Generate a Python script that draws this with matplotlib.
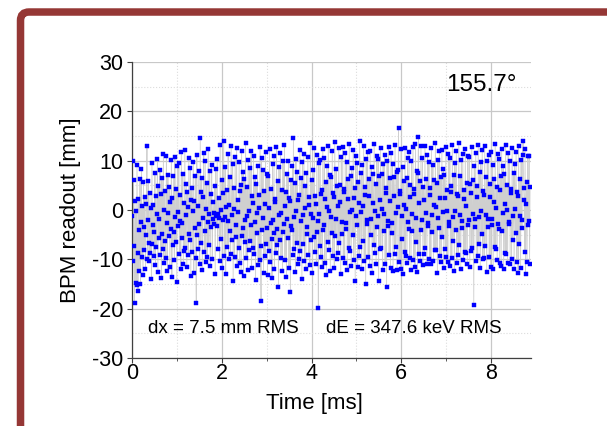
import matplotlib
matplotlib.use("Agg")
import matplotlib.pyplot as plt
import numpy as np
from matplotlib.patches import FancyBboxPatch
from matplotlib.ticker import MultipleLocator

plt.rcParams["font.family"] = ["Liberation Sans", "DejaVu Sans"]
plt.rcParams["axes.unicode_minus"] = False

# BPM turn-by-turn readout [mm], one sample per turn
bpm_readout = [
    -1.2, 9.9, -10.4, 6.1, -7.3, -18.8, 1.9, -14.8, -0.3, -15.2, 9.1, -8.7, -16.4, 2.2, -12.3, -4.1, 6.2, -14.9, -2.5, 8.4,
    -9.6, 0.8, -13.1, 5.7, -8.2, -3.4, 2.7, -11.9, -5.1, 1.2, 13.0, -9.9, -2.0, 5.9, -10.3, -6.6, 3.5, -8.8, 0.4, -14.0,
    9.6, -6.9, -3.0, 1.0, -9.3, -4.4, 7.6, -11.2, 2.9, -7.5, -0.9, 10.4, -12.6, 4.8, -5.7, -1.8, 8.1, -9.1, 3.3, -13.8,
    6.5, -4.8, -8.0, 11.4, -10.7, 0.1, 3.9, -6.2, -9.7, 10.9, -2.7, -12.4, 7.1, -0.7, -5.3, 4.6, -11.6, 1.6, -3.9, 10.2,
    -13.6, 2.4, -7.0, 6.8, -4.5, -10.1, 10.8, -1.4, -6.4, 4.2, -14.5, 8.9, -3.3, -0.5, 9.5, -9.0, -2.2, 3.0, -12.0, 11.8,
    -5.6, -2.6, 7.3, -10.9, 1.4, -8.4, 12.2, -7.7, -1.1, 5.2, -11.5, 3.7, 0.6, -9.2, 10.6, -4.9, -6.0, 8.6, -13.3, 2.0,
    4.4, -8.6, -0.2, 9.8, -12.8, 1.8, -3.6, 6.9, -9.8, -18.9, 11.1, -5.0, 0.9, -7.9, 8.0, -2.9, -11.0, 14.7, -6.7, 3.6,
    6.4, -12.2, 2.6, -1.6, 11.6, -8.5, -4.2, 10.0, -10.6, 0.3, 5.5, -9.5, -2.4, 12.4, -7.1, -0.8, 7.9, -11.3, 3.2, -3.5,
    9.2, -9.9, -1.9, 1.7, -2.8, -0.6, 4.9, -13.0, 8.3, -1.3, -3.2, 10.3, -8.0, -0.9, 2.5, -1.7, -10.4, 13.2, -5.8, 0.0,
    6.0, -11.7, 3.4, -2.1, 14.0, -9.3, -1.5, 8.8, -12.9, 0.7, 4.0, -7.4, -2.3, 11.3, -10.0, 1.1, 6.6, -4.3, -8.9, 12.9,
    -6.1, -1.0, 9.4, -14.4, 4.5, 0.2, -9.6, 10.7, -3.0, -5.4, 12.6, -11.4, 2.1, -0.4, -7.6, 9.7, -10.8, 3.9, 5.0, -12.5,
    11.9, -5.2, -3.7, 7.7, -13.4, 6.3, -2.0, -6.5, 13.5, -9.7, -1.2, 4.7, -12.1, 10.1, -0.1, -8.1, 8.5, -6.3, -3.1, 12.0,
    -11.8, 2.8, 1.5, -7.8, 11.0, -9.0, -2.5, 6.7, -14.2, 5.3, -0.7, -4.6, 9.0, -11.1, 0.5, 3.1, -10.2, 12.7, -7.2, -18.5,
    10.5, -4.0, -1.6, 8.2, -12.7, 3.8, 1.3, -9.4, 11.7, -6.8, -3.6, 7.4, -13.2, 6.9, 0.4, -8.3, 12.3, -10.5, -2.6, 4.3,
    -5.9, -13.7, 9.3, -2.1, -4.7, 10.9, -11.9, 1.6, 2.3, -8.7, 12.8, -7.0, -3.8, 5.8, -15.7, 8.7, -1.0, -6.1, 11.5, -9.8,
    -0.6, 4.1, -12.3, 9.9, -4.4, -2.8, 13.1, -10.1, 0.8, 3.6, -13.5, 7.2, -1.8, -5.6, 10.0, -11.7, 2.4, 1.9, -16.7, 6.0,
    -3.3, -4.1, 8.9, -9.2, 14.6, -7.9, -1.4, 5.4, -12.6, 10.4, -0.3, -6.7, 7.8, -11.0, 2.0, 3.0, -9.9, 12.1, -8.4, -2.2,
    6.4, -13.9, 9.7, -1.1, -6.9, 11.4, -10.3, 0.5, 4.8, -12.0, 7.6, -3.4, -4.8, 10.8, -9.1, 1.0, 2.7, -11.2, 13.6, -6.0,
    -0.9, 6.1, -12.8, 8.1, -1.7, -5.5, 12.5, -8.6, 2.9, 1.2, -10.9, 11.2, -4.5, -2.3, -19.8, 9.5, -0.8, -7.3, 10.1, -9.5,
    3.3, 4.0, -11.6, 12.4, -4.0, -3.1, 10.6, -10.7, 2.2, 5.6, -13.1, 9.0, 0.6, -6.4, 13.0, -8.2, -0.2, 7.0, -12.4, 6.7,
    -1.5, -4.6, 11.9, -9.3, 3.4, 2.6, -11.8, 13.7, -5.3, -1.9, 8.4, -10.0, 4.9, 0.9, -8.8, 12.6, -6.6, 1.7, 5.1, -12.9,
    10.7, -2.4, -4.9, 12.8, -9.7, 4.2, 3.7, -10.8, 11.6, -3.9, -2.7, 9.8, -12.2, 6.3, 2.3, -7.7, 13.3, -8.3, -0.4, 6.9,
    -11.4, 8.6, 0.1, -5.0, 12.2, -10.2, 2.5, 4.4, -14.3, 11.0, -1.3, -3.0, 9.6, -11.5, 5.7, 1.4, -9.4, 13.9, -7.4, -0.5,
    7.5, -12.0, 9.1, 0.8, -6.2, 12.9, -10.4, 3.0, 4.6, -14.9, 10.3, -2.9, -2.0, 11.8, -9.6, 2.8, 6.2, -11.3, 12.0, -5.1,
    -1.8, 8.8, -12.7, 7.3, 1.5, -7.0, 13.4, -8.7, -0.1, 5.3, -11.0, 10.9, -3.5, -1.2, 10.4, -14.3, 6.8, 2.1, -8.0, 12.6,
    -7.6, 0.2, 7.4, -12.2, 9.4, -0.9, -4.3, 11.2, -10.9, 3.5, 4.5, -15.7, 10.0, -2.2, -3.2, 12.7, -9.1, 1.8, 6.5, -11.7,
    11.5, -4.7, -2.6, 9.3, -12.3, 6.6, 2.9, -9.0, 13.2, -7.5, -0.7, 7.7, -12.2, 8.2, 0.7, 16.7, -10.6, 3.9, 3.2, -11.9,
    12.3, -5.8, -1.3, 8.7, -13.0, 5.9, 1.0, -8.5, 12.5, -9.3, 0.3, 6.4, -10.7, 10.6, -2.5, -3.9, 11.7, -9.8, 2.6, 5.0,
    -12.1, 9.9, -0.8, -4.2, 12.8, -10.1, 4.3, 3.3, -11.5, 13.3, -6.5, -1.6, 8.0, -12.5, 7.5, 14.9, -8.9, 1.5, 5.8, -10.3,
    12.9, -4.1, -2.1, 10.5, -11.2, 4.7, 2.0, -9.0, 13.0, -7.8, -0.6, 6.3, -10.9, 11.1, -2.6, -3.3, 9.7, -9.9, 3.1, 4.5,
    -11.0, 12.6, -4.4, -1.0, 9.2, -10.3, 6.1, 1.1, -8.2, 13.5, -8.1, 0.7, 5.4, -12.8, 10.2, -1.7, -3.7, 11.9, -9.4, 2.4,
    6.7, -10.6, 12.2, -5.5, -0.5, 8.3, -11.8, 7.0, 2.5, -7.9, 12.7, -9.6, -0.2, 4.1, -10.5, 11.4, -3.2, -2.4, 10.6, -11.3,
    4.9, 3.7, -9.8, 13.1, -6.3, -1.4, 7.1, -12.4, 9.5, -0.3, -4.0, 12.0, -10.8, 3.2, 2.9, -9.2, 13.6, -7.1, -1.1, 6.8,
    -11.9, 10.2, -2.3, -3.6, 11.3, -10.2, 4.0, 2.2, -8.6, 12.4, -8.8, 0.9, 5.5, -10.9, 11.0, -3.0, -2.0, 10.8, -11.5, 5.2,
    3.5, -8.4, 12.8, -7.7, -0.9, 6.0, -19.2, 9.0, -1.9, -3.4, 11.6, -10.4, 4.8, 2.6, -9.3, 13.2, -6.8, -1.5, 7.8, -11.8,
    9.8, -0.1, -4.8, 12.1, -10.0, 3.8, 3.1, -9.7, 12.9, -7.3, -1.0, 6.6, -12.6, 10.0, -1.8, -3.5, 11.2, -9.5, 2.7, 5.3,
    -11.6, 11.8, -3.1, -1.9, 9.1, -11.9, 6.2, 1.6, -7.5, 13.4, -8.0, 0.4, 4.6, -10.1, 11.3, -2.8, -3.8, 10.4, -10.7, 4.0,
    6.9, -11.4, 12.4, -4.3, -0.7, 8.9, -11.9, 7.4, 1.3, -8.8, 13.1, -9.0, 0.0, 5.1, -10.8, 11.5, -2.5, -2.9, 9.9, -10.9,
    4.2, 3.4, -10.0, 12.6, -6.0, -1.2, 7.5, -12.0, 9.3, 0.2, -4.6, 11.7, -10.6, 3.6, 2.8, -12.8, 13.0, -6.9, -1.3, 6.3,
    -11.7, 10.1, -2.0, -3.7, 11.1, 13.9, 4.4, 2.0, -8.5, 12.3, -12.9, 1.2, 5.6, -10.6, 11.0, -3.1, -2.2, 10.9, -11.0, 4.7,
]
turn_period_ms = 0.0111

phase_label = "155.7°"
dx_label = "dx = 7.5 mm RMS"
de_label = "dE = 347.6 keV RMS"

time_ms = np.arange(len(bpm_readout)) * turn_period_ms

fig = plt.figure(figsize=(6.07, 4.26), dpi=100)

# dark red slide frame, runs off the right and bottom edges
frame = FancyBboxPatch(
    (0.0338, -0.2), 1.3, 1.1718,
    boxstyle="round,pad=0,rounding_size=0.014",
    mutation_aspect=607 / 426,
    transform=fig.transFigure,
    facecolor="none", edgecolor="#953735", linewidth=5.4,
)
fig.patches.append(frame)

ax = fig.add_axes([0.2175, 0.1596, 0.6573, 0.6948])

ax.plot(time_ms, bpm_readout, color="#cfcfcf", linewidth=0.6, zorder=2)
ax.plot(time_ms, bpm_readout, linestyle="none", marker="s", markersize=2.4,
        markerfacecolor="#0000ff", markeredgecolor="#0000ff", markeredgewidth=0.3, zorder=3)

ax.set_xlim(0, 8.89)
ax.set_ylim(-30, 30)
ax.xaxis.set_major_locator(MultipleLocator(2))
ax.xaxis.set_minor_locator(MultipleLocator(1))
ax.yaxis.set_major_locator(MultipleLocator(10))
ax.yaxis.set_minor_locator(MultipleLocator(5))

ax.grid(which="major", color="#c8c8c8", linewidth=0.9, zorder=0)
ax.grid(which="minor", color="#dcdcdc", linewidth=0.8, linestyle=":", zorder=0)
ax.set_axisbelow(True)

for side in ["top", "right"]:
    ax.spines[side].set_visible(False)
for side in ["left", "bottom"]:
    ax.spines[side].set_color("#404040")
    ax.spines[side].set_linewidth(0.9)

ax.tick_params(which="major", direction="out", length=3.5, width=0.8,
               color="#404040", labelsize=15.5)
ax.tick_params(axis="x", which="major", pad=0)
ax.tick_params(axis="y", which="major", pad=3)
ax.tick_params(axis="x", which="minor", direction="out", length=2.2, width=0.6, color="#404040")
ax.tick_params(axis="y", which="minor", length=0)

ax.set_xlabel("Time [ms]", fontsize=16)
ax.set_ylabel("BPM readout [mm]", fontsize=16)
ax.xaxis.set_label_coords(0.456, -0.155)
ax.yaxis.set_label_coords(-0.155, 0.5)
ax.xaxis.label.set_verticalalignment("center")
ax.yaxis.label.set_verticalalignment("center")

ax.text(8.57, 25.3, phase_label, fontsize=17.5, ha="right", va="center")
ax.text(0.36, -24.0, dx_label, fontsize=13.5, ha="left", va="center")
ax.text(4.32, -24.0, de_label, fontsize=13.5, ha="left", va="center")

fig.savefig("out.png", dpi=100)
